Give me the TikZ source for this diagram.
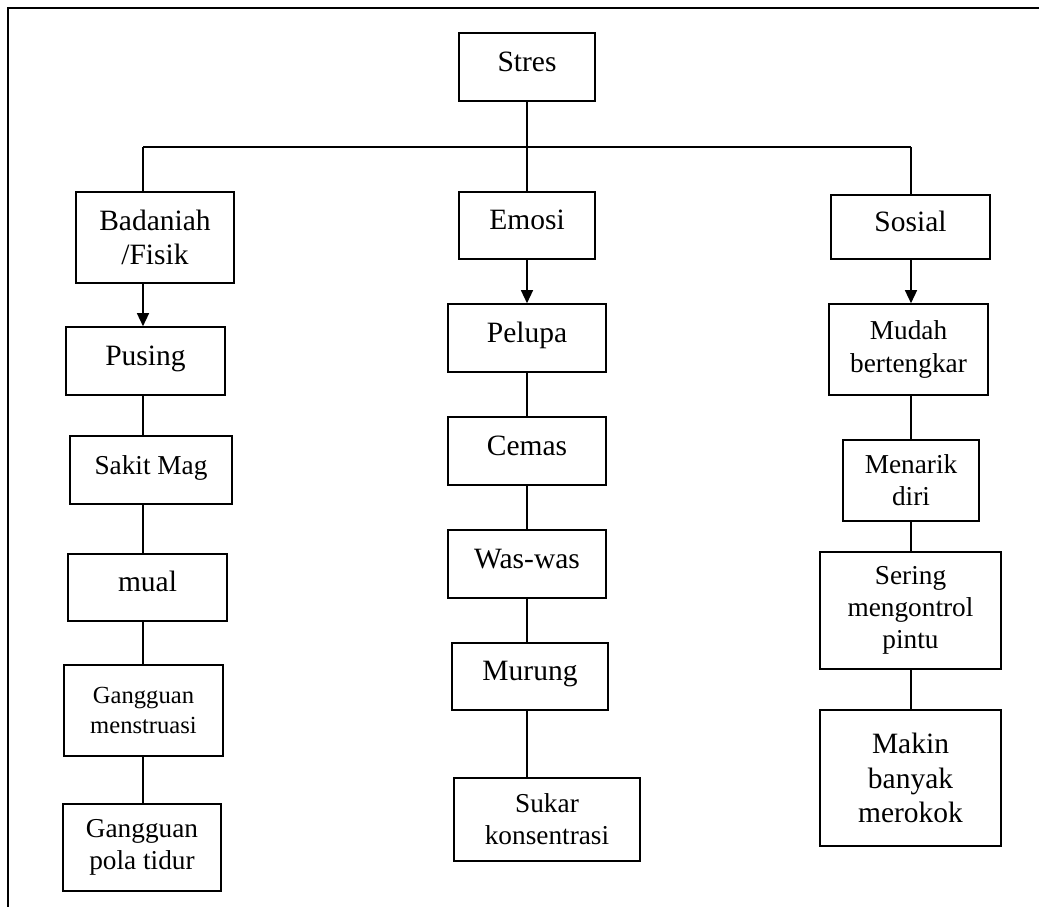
\documentclass[tikz,border=0pt]{standalone}
\usepackage{fontspec}
\setmainfont{Liberation Serif}
\usepackage{tikz}
\usetikzlibrary{arrows.meta}
\tikzset{>={Triangle[length=13pt,width=12pt]},
  box/.style = {draw,line width=1.6pt,inner sep=2pt,align=center},
  one/.style = {text height=20pt,text depth=12pt},
  big/.style = {font=\fontsize{29.5}{34.5}\selectfont},
  mid/.style = {font=\fontsize{27.3}{32.3}\selectfont},
  small/.style = {font=\fontsize{24.6}{29.3}\selectfont},
  link/.style = {line width=1.4pt}
}
\begin{document}
\begin{tikzpicture}[x=1pt,y=-1pt]
  \useasboundingbox (0,0) rectangle (1039,907);
  % frame
  \draw[line width=1.6pt] (8,907) -- (8,8) -- (1039,8);

  % top level
  \node[box,big,one,minimum width=136pt,minimum height=68pt] (stres) at (527,67) {Stres};
  \node[box,big,minimum width=158pt,minimum height=91pt] (badan) at (155,237.5) {Badaniah\\/Fisik};
  \node[box,big,one,minimum width=136pt,minimum height=67pt] (emosi) at (527,225.5) {Emosi};
  \node[box,big,one,minimum width=159pt,minimum height=64pt] (sosial) at (910.5,227) {Sosial};

  % left column
  \node[box,big,one,minimum width=159pt,minimum height=68pt] (pusing) at (145.5,361) {Pusing};
  \node[box,mid,one,minimum width=162pt,minimum height=68pt] (sakit) at (151,470) {Sakit Mag};
  \node[box,big,one,minimum width=159pt,minimum height=67pt] (mual) at (147.5,587.5) {mual};
  \node[box,small,minimum width=159pt,minimum height=91pt] (haid) at (143.5,710.5) {Gangguan\\menstruasi};
  \node[box,mid,minimum width=158pt,minimum height=87pt] (tidur) at (142,847.5) {Gangguan\\pola tidur};

  % middle column
  \node[box,big,one,minimum width=158pt,minimum height=68pt] (pelupa) at (527,338) {Pelupa};
  \node[box,big,one,minimum width=158pt,minimum height=68pt] (cemas) at (527,451) {Cemas};
  \node[box,big,one,minimum width=158pt,minimum height=68pt] (waswas) at (527,564) {Was-was};
  \node[box,big,one,minimum width=156pt,minimum height=67pt] (murung) at (530,676.5) {Murung};
  \node[box,mid,minimum width=186pt,minimum height=83pt] (sukar) at (547,819.5) {Sukar\\konsentrasi};

  % right column
  \node[box,mid,minimum width=159pt,minimum height=91pt] (mudah) at (908.5,349.5) {Mudah\\bertengkar};
  \node[box,mid,minimum width=136pt,minimum height=81pt] (menarik) at (911,480.5) {Menarik\\diri};
  \node[box,mid,minimum width=181pt,minimum height=117pt] (sering) at (910.5,610.5) {Sering\\mengontrol\\pintu};
  \node[box,big,minimum width=181pt,minimum height=136pt] (makin) at (910.5,778) {Makin\\banyak\\merokok};

  % branches
  \coordinate (lx) at (143,147);
  \coordinate (mx) at (527,147);
  \coordinate (rx) at (911,147);
  \draw[link] (stres) -- (emosi);
  \draw[link] (lx) -- (rx);
  \draw[link] (lx) -- (lx |- badan.north);
  \draw[link] (rx) -- (rx |- sosial.north);

  \draw[link,->] (badan.south -| lx) -- (pusing.north -| lx);
  \draw[link] (pusing.south -| lx) -- (sakit.north -| lx);
  \draw[link] (sakit.south -| lx) -- (mual.north -| lx);
  \draw[link] (mual.south -| lx) -- (haid.north -| lx);
  \draw[link] (haid.south -| lx) -- (tidur.north -| lx);

  \draw[link,->] (emosi) -- (pelupa);
  \draw[link] (pelupa) -- (cemas);
  \draw[link] (cemas) -- (waswas);
  \draw[link] (waswas.south -| mx) -- (murung.north -| mx);
  \draw[link] (murung.south -| mx) -- (sukar.north -| mx);

  \draw[link,->] (sosial.south -| rx) -- (mudah.north -| rx);
  \draw[link] (mudah.south -| rx) -- (menarik.north -| rx);
  \draw[link] (menarik.south -| rx) -- (sering.north -| rx);
  \draw[link] (sering.south -| rx) -- (makin.north -| rx);
\end{tikzpicture}
\end{document}
